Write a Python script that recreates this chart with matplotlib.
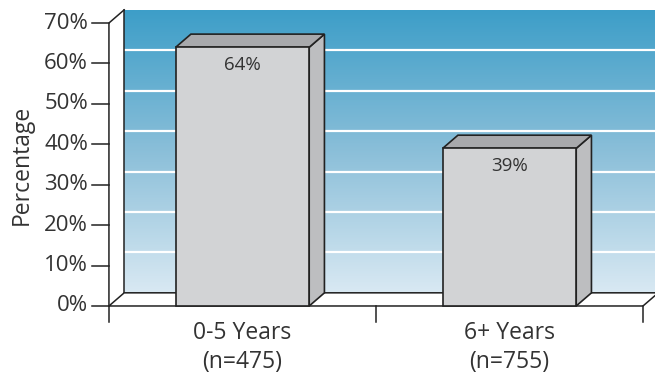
import numpy as np
import matplotlib
matplotlib.use('Agg')
import matplotlib.pyplot as plt
from matplotlib.patches import Polygon
from matplotlib.colors import LinearSegmentedColormap

# Data
groups = ['0-5 Years', '6+ Years']
sizes = ['(n=475)', '(n=755)']
values = [64, 39]
y_ticks = [0, 10, 20, 30, 40, 50, 60, 70]

plt.rcParams['font.family'] = ['Open Sans', 'DejaVu Sans']
text_color = '#333333'
edge = '#222222'

fig = plt.figure(figsize=(6.55, 3.79), dpi=100)
ax = fig.add_axes([0, 0, 1, 1])
ax.set_xlim(-0.908, 1.545)
ax.set_ylim(-18.06, 75.69)
ax.axis('off')

# depth offset of the pseudo-3D box (x in category units, y in percent)
dx, dy = 0.057, 3.25
bar_w = 0.5
x_left, x_right = -0.5, len(groups) - 0.5
y_top = y_ticks[-1]

# back wall gradient
grad = LinearSegmentedColormap.from_list('wall', ['#d9e9f3', '#8bbfd9', '#3d9ec8'])
ax.imshow(np.linspace(0, 1, 256).reshape(-1, 1), cmap=grad, aspect='auto',
          extent=[x_left + dx, 1.6, dy, y_top + dy], origin='lower', zorder=0)

# white gridlines on the wall
for t in y_ticks[1:-1]:
    ax.plot([x_left + dx, 1.6], [t + dy, t + dy], color='white', lw=1.6, zorder=1)

# wall borders
ax.plot([x_left + dx, x_left + dx, 1.6], [y_top + dy, dy, dy], color=edge, lw=1.1, zorder=2)

# floor
floor = Polygon([(x_left, 0), (x_right, 0), (x_right + dx, dy), (x_left + dx, dy)],
                closed=True, facecolor='white', edgecolor=edge, lw=1.1, zorder=2)
ax.add_patch(floor)

# front y axis with tick marks
ax.plot([x_left, x_left, x_left + dx], [0, y_top, y_top + dy], color=edge, lw=1.1, zorder=3)
for t in y_ticks:
    ax.plot([x_left - 0.063, x_left], [t, t], color=edge, lw=1.1, zorder=3)
    ax.text(x_left - 0.078, t, f'{t}%', ha='right', va='center', fontsize=16,
            color=text_color)

# category separators under the floor
for b in np.arange(x_left, x_right + 0.01, 1.0):
    ax.plot([b, b], [0, -4], color=edge, lw=1.1, zorder=3)

# bars
for i, (g, n, v) in enumerate(zip(groups, sizes, values)):
    x0, x1 = i - bar_w / 2, i + bar_w / 2
    front = Polygon([(x0, 0), (x1, 0), (x1, v), (x0, v)], closed=True,
                    facecolor='#d2d3d5', edgecolor=edge, lw=1.2, zorder=5)
    top = Polygon([(x0, v), (x1, v), (x1 + dx, v + dy), (x0 + dx, v + dy)], closed=True,
                  facecolor='#a8a9ac', edgecolor=edge, lw=1.2, zorder=4)
    side = Polygon([(x1, 0), (x1 + dx, dy), (x1 + dx, v + dy), (x1, v)], closed=True,
                   facecolor='#bdbec0', edgecolor=edge, lw=1.2, zorder=4)
    for p in (side, top, front):
        ax.add_patch(p)
    ax.text(i, v - 4.3, f'{v}%', ha='center', va='center', fontsize=13.5,
            color=text_color, zorder=6)
    ax.text(i, -6.7, g, ha='center', va='center', fontsize=16.5, color=text_color)
    ax.text(i, -13.9, n, ha='center', va='center', fontsize=16.5, color=text_color)

ax.text(-0.826, 35, 'Percentage', rotation=90, ha='center', va='center', fontsize=16.5,
        color=text_color)

fig.savefig('out.png', dpi=100)
